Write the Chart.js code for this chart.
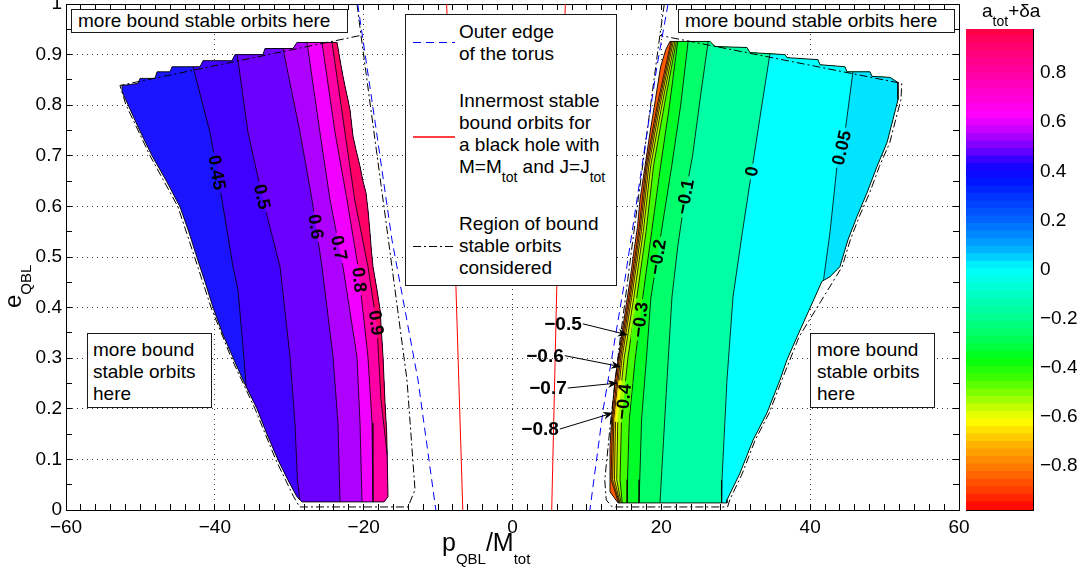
<!DOCTYPE html>
<html>
<head>
<meta charset="utf-8">
<script src="https://cdn.jsdelivr.net/npm/chart.js@4.4.1/dist/chart.umd.min.js"></script>
<style>
  html, body { margin:0; padding:0; background:#fff; }
  body { width:1086px; height:580px; position:relative; overflow:hidden;
         font-family:"Liberation Sans", Arial, Helvetica, sans-serif; color:#000; }
  canvas { position:absolute; top:0; }
  #main { left:0; }
  #cbar { left:940px; }
  .box { position:absolute; background:#fff; border:1px solid #1a1a1a; box-sizing:border-box;
         font-size:19px; line-height:22px; white-space:nowrap; }
  .sub { font-size:14px; vertical-align:-9px; line-height:0; }
  .ttl { position:absolute; white-space:nowrap; }
</style>
</head>
<body>
<canvas id="main" width="1086" height="580"></canvas>
<canvas id="cbar" width="146" height="580"></canvas>

<div class="box" style="left:71px;top:9px;width:277px;height:24px;padding-left:6px;">more bound stable orbits here</div>
<div class="box" style="left:678px;top:9px;width:277px;height:24px;padding-left:6px;">more bound stable orbits here</div>
<div class="box" style="left:87px;top:333px;width:125px;height:75px;padding:5px 0 0 5px;">more bound<br>stable orbits<br>here</div>
<div class="box" style="left:810px;top:333px;width:125px;height:75px;padding:5px 0 0 6px;">more bound<br>stable orbits<br>here</div>

<div class="box" style="left:405px;top:14px;width:212px;height:272px;">
  <svg width="60" height="268" style="position:absolute;left:0;top:0">
    <line x1="7" y1="27.5" x2="49" y2="27.5" stroke="#0000ff" stroke-width="1" stroke-dasharray="8 5"/>
    <line x1="7" y1="122" x2="49" y2="122" stroke="#ff0000" stroke-width="1.3"/>
    <line x1="7" y1="231.5" x2="49" y2="231.5" stroke="#000" stroke-width="1" stroke-dasharray="8 3 2 3"/>
  </svg>
  <div style="position:absolute;left:53px;top:6px;">Outer edge<br>of the torus</div>
  <div style="position:absolute;left:53px;top:75px;">Innermost stable<br>bound orbits for<br>a black hole with<br>M=M<span class="sub">tot</span> and J=J<span class="sub">tot</span></div>
  <div style="position:absolute;left:53px;top:198px;">Region of bound<br>stable orbits<br>considered</div>
</div>

<div class="ttl" style="left:442px;top:530px;font-size:25px;line-height:25px;">p<span style="font-size:15px;vertical-align:-13px;line-height:0">QBL</span>/M<span style="font-size:15px;vertical-align:-13px;line-height:0">tot</span></div>
<div class="ttl" style="left:0;top:0;font-size:24px;line-height:24px;transform-origin:0 0;transform:translate(1px,308px) rotate(-90deg);">e<span style="font-size:15px;vertical-align:-10px;line-height:0">QBL</span></div>
<div class="ttl" style="left:982px;top:0px;font-size:19px;line-height:22px;">a<span class="sub">tot</span>+&delta;a</div>

<script>
// ---------------- data ----------------
const xTickValues = [-60, -40, -20, 0, 20, 40, 60];
const yTickValues = [0, 0.1, 0.2, 0.3, 0.4, 0.5, 0.6, 0.7, 0.8, 0.9, 1];
const cbTickValues = [-0.8, -0.6, -0.4, -0.2, 0, 0.2, 0.4, 0.6, 0.8];

// left region (positive spin side)
const leftLevels = [0.45, 0.5, 0.6, 0.7, 0.8, 0.9];
const leftBandColors = ['#1a14ff', '#4000ff', '#6c00ff', '#ae00ff', '#f200ff', '#ff00a6', '#ff0066'];
const leftBoundary = [
  [-52.47,0.839],[-50.32,0.843],[-50.05,0.853],[-48.04,0.853],[-47.77,0.866],[-46.02,0.866],[-45.75,0.876],
  [-41.99,0.876],[-41.59,0.888],[-37.69,0.888],[-37.29,0.900],[-33.53,0.900],[-33.26,0.912],[-29.50,0.912],
  [-28.96,0.924],[-23.58,0.924],
  [-23.3,0.90],[-23.0,0.875],[-22.78,0.857],[-22.4,0.83],[-22.1,0.81],[-21.84,0.791],[-21.6,0.76],[-21.43,0.738],
  [-21.0,0.71],[-20.49,0.679],[-20.1,0.65],[-19.69,0.627],[-19.4,0.59],[-19.15,0.548],[-18.95,0.51],[-18.75,0.481],
  [-18.21,0.435],[-17.80,0.396],[-17.6,0.35],[-17.40,0.303],[-17.13,0.212],[-16.9,0.15],[-16.73,0.026],[-17.27,0.016],
  [-28.29,0.016],
  [-28.96,0.026],[-30.2,0.06],[-31.51,0.099],[-33.0,0.15],[-34.33,0.200],[-36.0,0.25],[-37.56,0.301],[-39.0,0.35],
  [-40.24,0.400],[-41.3,0.45],[-42.40,0.499],[-43.5,0.55],[-44.68,0.599],[-46.5,0.65],[-48.44,0.700],[-50.1,0.75],
  [-51.67,0.801],[-52.47,0.827]
];
const leftContourLines = [
  [[-42.93,0.876],[-40.65,0.746],[-39.04,0.613],[-37.56,0.481],[-36.89,0.435],[-36.2,0.32],[-35.8,0.245]],
  [[-37.0,0.900],[-35.54,0.746],[-33.53,0.613],[-31.24,0.481],[-29.90,0.303],[-29.23,0.172],[-28.9,0.06],[-28.6,0.021]],
  [[-30.84,0.912],[-28.55,0.746],[-26.94,0.613],[-25.60,0.481],[-24.12,0.303],[-23.45,0.172],[-23.18,0.016]],
  [[-27.61,0.924],[-25.87,0.746],[-24.52,0.613],[-22.78,0.481],[-20.90,0.303],[-20.49,0.172],[-20.22,0.016]],
  [[-25.60,0.924],[-23.85,0.746],[-22.24,0.613],[-20.76,0.481],[-19.42,0.303],[-18.88,0.172],[-18.75,0.016]],
  [[-24.25,0.924],[-22.51,0.746],[-21.2,0.613],[-19.42,0.481],[-18.21,0.362],[-17.67,0.218],[-16.85,0.11]]
];
const leftLabelY = [0.667, 0.619, 0.56, 0.518, 0.455, 0.37];

// right region (negative spin side)
const rightLevels = [-0.8, -0.7, -0.6, -0.5, -0.4, -0.3, -0.2, -0.1, 0, 0.05];
const rightBandColors = ['#ff5a00', '#ff9600', '#ffc800', '#f0ff00', '#a0ff00', '#40ff00', '#00ff28', '#00ff6a', '#00ffa4', '#00ffff', '#00e4ff'];
const rightBoundary = [
  [21.16,0.926],[26.54,0.926],[27.21,0.916],[31.51,0.914],[31.91,0.904],[36.62,0.900],[36.89,0.894],[41.05,0.890],
  [41.32,0.880],[44.68,0.876],[44.95,0.866],[48.04,0.866],[48.31,0.857],[50.72,0.855],[51.80,0.845],
  [51.80,0.811],[51.13,0.772],[50.32,0.726],[48.98,0.679],[47.64,0.627],[46.29,0.580],[45.08,0.534],[44.00,0.481],
  [42.66,0.461],[41.59,0.452],[38.23,0.342],[36.89,0.297],[35.94,0.257],[34.20,0.192],[32.32,0.138],[30.57,0.073],
  [28.82,0.020],[28.82,0.014],
  [14.18,0.014],
  [13.10,0.036],[13.10,0.125],[13.37,0.192],[13.77,0.257],[14.44,0.322],[15.12,0.390],[15.80,0.455],[16.30,0.510],
  [16.80,0.560],[17.13,0.613],[17.80,0.679],[18.48,0.746],[19.20,0.811],[19.90,0.876],[20.60,0.910]
];
const rightContourLines = [
  [[21.30,0.926],[19.45,0.80],[17.95,0.68],[16.95,0.55],[15.65,0.42],[14.35,0.30],[13.45,0.18],[13.25,0.06],[14.25,0.014]],
  [[21.45,0.926],[19.62,0.80],[18.12,0.68],[17.12,0.55],[15.82,0.42],[14.52,0.30],[13.62,0.18],[13.45,0.06],[14.35,0.014]],
  [[21.62,0.926],[19.82,0.80],[18.32,0.68],[17.32,0.55],[16.02,0.42],[14.72,0.30],[13.85,0.18],[13.70,0.06],[14.45,0.014]],
  [[21.82,0.926],[20.07,0.80],[18.57,0.68],[17.57,0.55],[16.30,0.42],[15.00,0.30],[14.15,0.18],[14.00,0.06],[14.60,0.014]],
  [[22.02,0.926],[20.40,0.80],[18.95,0.68],[17.95,0.55],[16.70,0.42],[15.50,0.30],[14.65,0.18],[14.45,0.06],[14.75,0.014]],
  [[22.20,0.926],[21.10,0.80],[19.90,0.68],[18.70,0.55],[17.50,0.42],[16.50,0.30],[15.70,0.18],[15.45,0.06],[15.40,0.014]],
  [[23.60,0.926],[22.60,0.80],[21.40,0.68],[20.00,0.55],[18.60,0.42],[18.00,0.30],[17.35,0.18],[17.10,0.06],[17.00,0.014]],
  [[26.30,0.926],[25.20,0.811],[24.20,0.70],[23.18,0.619],[22.20,0.52],[21.43,0.421],[20.76,0.257],[20.09,0.085],[19.82,0.014]],
  [[34.60,0.902],[33.40,0.79],[32.18,0.673],[30.90,0.55],[29.63,0.421],[28.82,0.257],[28.15,0.059],[28.10,0.014]],
  [[45.75,0.866],[44.68,0.746],[43.60,0.679],[42.66,0.548],[41.80,0.455]]
];
const rightLabelY = [null, null, null, null, 0.214, 0.376, 0.50, 0.619, 0.669, 0.716];
const arrowNotes = [
  {level:-0.5, y:0.346, tx:6.79, ty:0.366},
  {level:-0.6, y:0.283, tx:4.37, ty:0.303},
  {level:-0.7, y:0.251, tx:4.77, ty:0.239},
  {level:-0.8, y:0.192, tx:3.70, ty:0.158}
];

// lines
const torusEdgeLeft  = [[-20.8,1.0],[-18.3,0.75],[-16.2,0.534],[-12.7,0.257],[-10.3,0.0]];
const torusEdgeRight = [[20.9,1.0],[19.4,0.876],[16.06,0.548],[15.1,0.455],[12.2,0.2],[10.4,0.0]];
const iscoLeft  = [[-8.85,1.0],[-7.6,0.44],[-6.68,0.0]];
const iscoRight = [[7.1,1.0],[5.94,0.435],[5.27,0.0]];
const regionLeft = [[-20.9,1.0],[-20.36,0.938],[-16.86,0.554],[-14.18,0.257],[-13.1,0.04],[-14.04,0.006],[-28.6,0.006],
  [-29.4,0.026],[-31.8,0.099],[-34.6,0.2],[-37.8,0.301],[-40.5,0.4],[-42.7,0.499],[-44.95,0.599],[-48.7,0.7],
  [-51.95,0.801],[-52.75,0.839],[-20.36,0.938]];
const regionRight = [[20.4,1.0],[19.8,0.938],[16.3,0.548],[14.4,0.33],[13.2,0.178],[12.4,0.059],[12.6,0.02],[13.4,0.006],
  [28.9,0.006],[29.2,0.02],[30.9,0.073],[32.6,0.138],[34.5,0.192],[36.2,0.257],[38.5,0.342],[44.3,0.481],[45.4,0.534],
  [46.6,0.58],[48.0,0.627],[49.3,0.679],[50.7,0.726],[51.5,0.772],[52.2,0.811],[52.3,0.843],[19.8,0.938]];

// colour bar (value -> colour)
const cbStops = [[0.98,'#ff0040'],[0.9,'#ff0070'],[0.8,'#ff00a0'],[0.7,'#ff00d8'],[0.62,'#ff00ff'],[0.55,'#b800ff'],
  [0.48,'#6800ff'],[0.42,'#1800ff'],[0.36,'#0010ff'],[0.3,'#0030ff'],[0.2,'#0062ff'],[0.1,'#00a0ff'],[0.04,'#00d4ff'],
  [0,'#00ffff'],[-0.1,'#00ffc8'],[-0.2,'#00ff90'],[-0.3,'#00ff50'],[-0.37,'#00ff10'],[-0.45,'#40ff00'],[-0.55,'#b0ff00'],
  [-0.62,'#ffff00'],[-0.7,'#ffc000'],[-0.8,'#ff8000'],[-0.9,'#ff4000'],[-0.98,'#ff0000']];
const cbMin = -0.98, cbMax = 0.98, cbSteps = 64;

// ---------------- helpers ----------------
const FONT = '"Liberation Sans", Arial, Helvetica, sans-serif';
Chart.defaults.font.family = FONT;
const fmt = v => { const r = Math.round(v * 100) / 100; return (r < 0 ? '\u2212' : '') + String(Math.abs(r)); };
const K = 68; // y-unit to x-unit pixel ratio, for projecting onto boundaries

function locate(p, b) {
  let best = null;
  for (let i = 0; i < b.length; i++) {
    const a = b[i], c = b[(i + 1) % b.length];
    const ax = a[0], ay = a[1] * K, dx = c[0] - ax, dy = c[1] * K - ay;
    const L = dx * dx + dy * dy;
    let t = L ? ((p[0] - ax) * dx + (p[1] * K - ay) * dy) / L : 0;
    t = Math.max(0, Math.min(1, t));
    const qx = ax + t * dx, qy = ay + t * dy;
    const d = (qx - p[0]) ** 2 + (qy - p[1] * K) ** 2;
    if (!best || d < best.d) best = { i, d, q: [qx, qy / K] };
  }
  return best;
}
// polygon of the part of the region lying to the right of a contour
function rightOf(contour, b) {
  const n = b.length;
  const s = locate(contour[0], b), e = locate(contour[contour.length - 1], b);
  const poly = [s.q, ...contour.slice(1, -1), e.q];
  let i = e.i, guard = 0;
  while (guard++ <= n) {
    poly.push(b[i]);
    if (i === (s.i + 1) % n) break;
    i = (i - 1 + n) % n;
  }
  return poly;
}
const pts = arr => arr.map(([x, y]) => ({ x, y }));
const datasets = [];
function addFill(poly, color, order) {
  datasets.push({ data: pts(poly), showLine: true, fill: 'shape', backgroundColor: color,
    borderWidth: 0, pointRadius: 0, tension: 0, order });
}
function addLine(arr, color, width, dash, order, isContour) {
  datasets.push({ data: pts(arr), showLine: true, fill: false, borderColor: color, borderWidth: width,
    borderDash: dash, pointRadius: 0, tension: 0, order, isContour: !!isContour });
}

// filled bands (painter's order)
addFill(leftBoundary, leftBandColors[0], 300);
leftContourLines.forEach((c, k) => addFill(rightOf(c, leftBoundary), leftBandColors[k + 1], 299 - k));
addFill(rightBoundary, rightBandColors[0], 200);
rightContourLines.forEach((c, k) => addFill(rightOf(c, rightBoundary), rightBandColors[k + 1], 199 - k));
// contour lines and outlines
leftContourLines.forEach(c => addLine(c, '#000', 0.8, [], 60, true));
rightContourLines.forEach(c => addLine(c, '#000', 0.8, [], 60, true));
addLine([...leftBoundary, leftBoundary[0]], '#000', 0.9, [], 55);
addLine([...rightBoundary, rightBoundary[0]], '#000', 0.9, [], 55);
// region / torus / isco lines
addLine(regionLeft, '#000', 1, [8, 3, 2, 3], 30);
addLine(regionRight, '#000', 1, [8, 3, 2, 3], 30);
addLine(torusEdgeLeft, '#0000ff', 1, [8, 5], 25);
addLine(torusEdgeRight, '#0000ff', 1, [8, 5], 25);
addLine(iscoLeft, '#ff0000', 1, [], 20);
addLine(iscoRight, '#ff0000', 1, [], 20);

function contourX(line, yv) {
  for (let i = 0; i < line.length - 1; i++) {
    const [x1, y1] = line[i], [x2, y2] = line[i + 1];
    if ((yv <= y1 && yv >= y2) || (yv >= y1 && yv <= y2)) {
      const t = y1 === y2 ? 0 : (yv - y1) / (y2 - y1);
      return { x: x1 + t * (x2 - x1), i };
    }
  }
  return null;
}
const LABEL_FONT = 'bold 18px ' + FONT;
function labelPlacements(chart) {
  const xs = chart.scales.x, ys = chart.scales.y, out = [];
  const ctx = chart.ctx;
  ctx.save(); ctx.font = LABEL_FONT;
  const add = (levels, lines, ly) => levels.forEach((lv, k) => {
    const yv = ly[k]; if (yv == null) return;
    const hit = contourX(lines[k], yv); if (!hit) return;
    const a = lines[k][hit.i], b = lines[k][hit.i + 1];
    const dx = xs.getPixelForValue(b[0]) - xs.getPixelForValue(a[0]);
    const dy = ys.getPixelForValue(b[1]) - ys.getPixelForValue(a[1]);
    let ang = Math.atan2(dy, dx);
    if (ang > Math.PI / 2) ang -= Math.PI;
    if (ang <= -Math.PI / 2) ang += Math.PI;
    const text = fmt(lv);
    out.push({ text, ang, w: ctx.measureText(text).width, px: xs.getPixelForValue(hit.x), py: ys.getPixelForValue(yv) });
  });
  add(leftLevels, leftContourLines, leftLabelY);
  add(rightLevels, rightContourLines, rightLabelY);
  ctx.restore();
  return out;
}

const annotatePlugin = {
  id: 'annot',
  beforeDatasetsDraw(chart) { chart.$labels = labelPlacements(chart); },
  beforeDatasetDraw(chart, args) {
    if (!args.meta || !chart.data.datasets[args.index].isContour) return;
    const ctx = chart.ctx, a = chart.chartArea;
    ctx.save();
    ctx.beginPath();
    ctx.rect(a.left - 5, a.top - 5, a.right - a.left + 10, a.bottom - a.top + 10);
    for (const L of chart.$labels || []) {
      const hw = L.w / 2 + 3, hh = 7;
      const c = Math.cos(L.ang), s = Math.sin(L.ang);
      const corners = [[-hw, -hh], [hw, -hh], [hw, hh], [-hw, hh]].map(([u, v]) => [L.px + u * c - v * s, L.py + u * s + v * c]);
      ctx.moveTo(corners[0][0], corners[0][1]);
      for (let i = 1; i < 4; i++) ctx.lineTo(corners[i][0], corners[i][1]);
      ctx.closePath();
    }
    ctx.clip('evenodd');
  },
  afterDatasetDraw(chart, args) {
    if (!args.meta || !chart.data.datasets[args.index].isContour) return;
    chart.ctx.restore();
  },
  afterDatasetsDraw(chart) {
    const { ctx } = chart, xs = chart.scales.x, ys = chart.scales.y;
    ctx.save();
    ctx.fillStyle = '#000'; ctx.strokeStyle = '#000';
    ctx.font = LABEL_FONT;
    ctx.textAlign = 'center'; ctx.textBaseline = 'middle';
    for (const L of chart.$labels || []) {
      ctx.save(); ctx.translate(L.px, L.py); ctx.rotate(L.ang); ctx.fillText(L.text, 0, 1); ctx.restore();
    }

    ctx.font = 'bold 19px ' + FONT;
    ctx.lineWidth = 1;
    arrowNotes.forEach(n => {
      const k = rightLevels.indexOf(n.level);
      const hit = contourX(rightContourLines[k], n.y);
      const tx = xs.getPixelForValue(hit.x), ty = ys.getPixelForValue(n.y);
      const cx = xs.getPixelForValue(n.tx), cy = ys.getPixelForValue(n.ty);
      const txt = fmt(n.level);
      ctx.fillText(txt, cx, cy);
      const sx = cx + ctx.measureText(txt).width / 2 + 1, sy = cy - 1;
      const th = Math.atan2(ty - sy, tx - sx), L = 10, W = 4;
      const bx = tx - L * Math.cos(th), by = ty - L * Math.sin(th);
      ctx.beginPath(); ctx.moveTo(sx, sy); ctx.lineTo(tx - 0.7 * L * Math.cos(th), ty - 0.7 * L * Math.sin(th)); ctx.stroke();
      ctx.beginPath();
      ctx.moveTo(tx, ty);
      ctx.lineTo(bx - W * Math.sin(th), by + W * Math.cos(th));
      ctx.lineTo(tx - 0.7 * L * Math.cos(th), ty - 0.7 * L * Math.sin(th));
      ctx.lineTo(bx + W * Math.sin(th), by - W * Math.cos(th));
      ctx.closePath(); ctx.fill();
    });
    ctx.restore();
  }
};

const noPad = s => { s.paddingTop = 0; s.paddingBottom = 0; s.paddingLeft = 0; s.paddingRight = 0; };
const edgeClear = (vals) => ctx => (ctx.tick && vals.includes(Math.round(ctx.tick.value * 1000) / 1000)) ? 'rgba(0,0,0,0)' : '#3a3a3a';

new Chart(document.getElementById('main'), {
  type: 'scatter',
  data: { datasets },
  plugins: [annotatePlugin],
  options: {
    responsive: false, maintainAspectRatio: false, animation: false, events: [], devicePixelRatio: 1,
    layout: { padding: { left: 0, right: 127, top: 4, bottom: 0 }, autoPadding: false },
    plugins: { legend: { display: false }, tooltip: { enabled: false } },
    scales: {
      x: {
        type: 'linear', position: 'bottom', min: -60, max: 60,
        afterBuildTicks: s => { s.ticks = xTickValues.map(v => ({ value: v })); },
        ticks: { callback: v => fmt(v), font: { size: 19 }, color: '#000', padding: 6, maxRotation: 0, autoSkip: false },
        grid: { drawTicks: false, color: edgeClear([-60, 60]), lineWidth: 1 },
        border: { display: true, color: '#000', width: 1, dash: [1, 4] },
        afterFit: s => { s.height = 70; noPad(s); }
      },
      y: {
        type: 'linear', position: 'left', min: 0, max: 1,
        afterBuildTicks: s => { s.ticks = yTickValues.map(v => ({ value: v })); },
        ticks: { callback: v => fmt(v), font: { size: 19 }, color: '#000', padding: 4 },
        grid: { drawTicks: false, color: edgeClear([0, 1]), lineWidth: 1 },
        border: { display: true, color: '#000', width: 1, dash: [1, 4] },
        afterFit: s => { s.width = 66; noPad(s); }
      },
      xMinor: {
        type: 'linear', position: 'bottom', min: -60, max: 60, display: true,
        ticks: { display: false, stepSize: 2 },
        grid: { drawTicks: false, color: '#000', lineWidth: 1 },
        border: { display: false, dash: c => { const a = c.chart.chartArea; return [6, (a.bottom - a.top) - 12]; } },
        afterFit: s => { s.height = 0; noPad(s); }
      },
      yMinor: {
        type: 'linear', position: 'left', min: 0, max: 1, display: true,
        ticks: { display: false, stepSize: 0.05 },
        grid: { drawTicks: false, color: '#000', lineWidth: 1 },
        border: { display: false, dash: c => { const a = c.chart.chartArea; return [6, (a.right - a.left) - 12]; } },
        afterFit: s => { s.width = 0; noPad(s); }
      },
      xTop: {
        type: 'linear', position: 'top', min: -60, max: 60, display: true,
        ticks: { display: false }, grid: { display: false, drawTicks: false },
        border: { display: true, color: '#000', width: 1 },
        afterFit: s => { s.height = 0; noPad(s); }
      },
      yRight: {
        type: 'linear', position: 'right', min: 0, max: 1, display: true,
        ticks: { display: false }, grid: { display: false, drawTicks: false },
        border: { display: true, color: '#000', width: 1 },
        afterFit: s => { s.width = 0; noPad(s); }
      }
    }
  }
});

// ---------------- colour bar ----------------
const hex = h => [1, 3, 5].map(i => parseInt(h.slice(i, i + 2), 16));
function cmap(v) {
  for (let i = 0; i < cbStops.length - 1; i++) {
    const [v1, c1] = cbStops[i], [v2, c2] = cbStops[i + 1];
    if (v <= v1 && v >= v2) {
      const t = (v1 - v) / (v1 - v2), a = hex(c1), b = hex(c2);
      return 'rgb(' + a.map((x, k) => Math.round(x + (b[k] - x) * t)).join(',') + ')';
    }
  }
  return v > cbStops[0][0] ? cbStops[0][1] : cbStops[cbStops.length - 1][1];
}
const cbStep = (cbMax - cbMin) / cbSteps;
const cbDatasets = [];
for (let j = 0; j < cbSteps; j++) {
  const lo = cbMin + j * cbStep;
  cbDatasets.push({ data: [[lo, Math.min(lo + cbStep + 0.004, cbMax)]], backgroundColor: cmap(lo + cbStep / 2),
    borderWidth: 0, barPercentage: 1, categoryPercentage: 1, grouped: false });
}
new Chart(document.getElementById('cbar'), {
  type: 'bar',
  data: { labels: [''], datasets: cbDatasets },
  options: {
    responsive: false, maintainAspectRatio: false, animation: false, events: [], devicePixelRatio: 1,
    layout: { padding: { left: 26, right: 0, top: 29, bottom: 70 }, autoPadding: false },
    plugins: { legend: { display: false }, tooltip: { enabled: false } },
    scales: {
      x: { display: true, z: 1, grid: { display: false, drawTicks: false }, ticks: { display: false },
           border: { display: true, color: '#000', width: 1 }, afterFit: s => { s.height = 0; noPad(s); } },
      xt: { type: 'category', labels: [''], position: 'top', display: true, z: 1, grid: { display: false, drawTicks: false },
            ticks: { display: false }, border: { display: true, color: '#000', width: 1 }, afterFit: s => { s.height = 0; noPad(s); } },
      y: {
        position: 'right', min: cbMin, max: cbMax, z: 1,
        afterBuildTicks: s => { s.ticks = cbTickValues.map(v => ({ value: v })); },
        ticks: { callback: v => fmt(v), font: { size: 19 }, color: '#000', padding: 7 },
        grid: { drawTicks: false, color: '#000', lineWidth: 1 },
        border: { display: true, color: '#000', width: 1, dash: [5, 3000],
                  dashOffset: c => { const a = c.chart.chartArea; return -((a.right - a.left) - 5); } },
        afterFit: s => { s.width = 53; noPad(s); }
      },
      yl: { position: 'left', min: cbMin, max: cbMax, display: true, z: 1, grid: { display: false, drawTicks: false },
            ticks: { display: false }, border: { display: true, color: '#000', width: 1 },
            afterFit: s => { s.width = 0; noPad(s); } }
    }
  }
});
</script>
</body>
</html>
